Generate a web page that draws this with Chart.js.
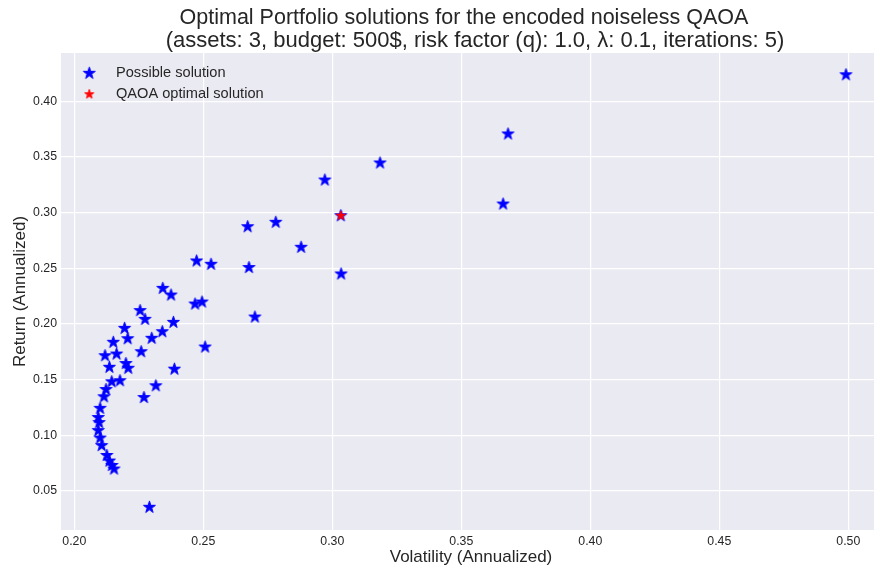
<!DOCTYPE html>
<html>
<head>
<meta charset="utf-8">
<script src="https://cdn.jsdelivr.net/npm/chart.js@4.4.1/dist/chart.umd.min.js"></script>
<style>
  html, body { margin: 0; padding: 0; background: #ffffff; }
  #wrap { width: 874px; height: 572px; }
</style>
</head>
<body>
<div id="wrap"><canvas id="chart" width="874" height="572"></canvas></div>
<script>
// Annualized volatility / return of every feasible portfolio
const volatility = [
  0.4991, 0.3681, 0.3662, 0.3185, 0.2971, 0.3033, 0.3034, 0.2879, 0.2781, 0.2672,
  0.2677, 0.2700, 0.2530, 0.2474, 0.2468, 0.2495, 0.2507, 0.2343, 0.2375, 0.2384,
  0.2341, 0.2300, 0.2388, 0.2316, 0.2270, 0.2259, 0.2255, 0.2274, 0.2291, 0.2195,
  0.2207, 0.2151, 0.2119, 0.2164, 0.2136, 0.2200, 0.2209, 0.2145, 0.2177, 0.2123,
  0.2115, 0.2100, 0.2093, 0.2096, 0.2093, 0.2100, 0.2106, 0.2126, 0.2136, 0.2146,
  0.2154
];
const returns = [
  0.4240, 0.3708, 0.3078, 0.3447, 0.3294, 0.2973, 0.2449, 0.2689, 0.2914, 0.2874,
  0.2507, 0.2062, 0.2536, 0.2566, 0.2179, 0.2197, 0.1792, 0.2320, 0.2260, 0.2014,
  0.1930, 0.1871, 0.1593, 0.1444, 0.1338, 0.1750, 0.2120, 0.2041, 0.0351, 0.1960,
  0.1867, 0.1835, 0.1714, 0.1729, 0.1610, 0.1644, 0.1601, 0.1480, 0.1489, 0.1410,
  0.1345, 0.1241, 0.1158, 0.1113, 0.1041, 0.0974, 0.0906, 0.0817, 0.0767, 0.0727,
  0.0695
];
// Portfolio picked by QAOA
const optimalVolatility = [0.3033];
const optimalReturn = [0.2973];

const xTicks = [0.20, 0.25, 0.30, 0.35, 0.40, 0.45, 0.50];
const yTicks = [0.05, 0.10, 0.15, 0.20, 0.25, 0.30, 0.35, 0.40];

const titleLines = [
  'Optimal Portfolio solutions for the encoded noiseless QAOA',
  '(assets: 3, budget: 500$, risk factor (q): 1.0, \u03BB: 0.1, iterations: 5)'
];
const xLabel = 'Volatility (Annualized)';
const yLabel = 'Return (Annualized)';
const seriesNames = ['Possible solution', 'QAOA optimal solution'];

const FONT = '"Liberation Sans", Arial, "DejaVu Sans", sans-serif';
const TEXT = '#262626';

// Five-pointed star marker rendered once to a small canvas
function makeStar(outer, color) {
  const size = Math.ceil(outer * 2 + 4);
  const c = document.createElement('canvas');
  c.width = size; c.height = size;
  const g = c.getContext('2d');
  const cx = size / 2, cy = size / 2;
  const inner = outer * 0.381966;
  g.beginPath();
  for (let k = 0; k < 10; k++) {
    const r = k % 2 === 0 ? outer : inner;
    const a = -Math.PI / 2 + k * Math.PI / 5;
    const px = cx + r * Math.cos(a), py = cy + r * Math.sin(a);
    if (k === 0) g.moveTo(px, py); else g.lineTo(px, py);
  }
  g.closePath();
  g.fillStyle = color;
  g.fill();
  g.lineWidth = 1;
  g.lineJoin = 'miter';
  g.strokeStyle = color;
  g.stroke();
  return c;
}
const blueStar = makeStar(6.3, '#0000ff');
const redStar = makeStar(4.8, '#ff0000');

const possiblePts = volatility.map((v, i) => ({ x: v, y: returns[i] }));
const optimalPts = optimalVolatility.map((v, i) => ({ x: v, y: optimalReturn[i] }));

const decor = {
  id: 'decor',
  beforeDraw(chart) {
    const { ctx, chartArea: a } = chart;
    ctx.save();
    ctx.fillStyle = '#ffffff';
    ctx.fillRect(0, 0, chart.width, chart.height);
    ctx.fillStyle = '#eaeaf2';
    ctx.fillRect(a.left, a.top, a.right - a.left, a.bottom - a.top);
    ctx.restore();
  },
  afterDraw(chart) {
    const { ctx, chartArea: a } = chart;
    ctx.save();
    ctx.fillStyle = TEXT;
    // two-line title
    ctx.textAlign = 'center';
    ctx.textBaseline = 'alphabetic';
    ctx.font = '21.5px ' + FONT;
    ctx.fillText(titleLines[0], 464, 23.5);
    ctx.font = '22px ' + FONT;
    ctx.fillText(titleLines[1], 475, 46.5);
    // axis titles
    ctx.font = '17px ' + FONT;
    ctx.fillText(xLabel, 471, 562);
    ctx.save();
    ctx.translate(25, (a.top + a.bottom) / 2);
    ctx.rotate(-Math.PI / 2);
    ctx.fillText(yLabel, 0, 0);
    ctx.restore();
    // legend (upper left, no frame)
    ctx.drawImage(blueStar, 89.3 - blueStar.width / 2, 73.3 - blueStar.height / 2);
    ctx.drawImage(redStar, 89.3 - redStar.width / 2, 94.3 - redStar.height / 2);
    ctx.textAlign = 'left';
    ctx.font = '14.6px ' + FONT;
    ctx.fillText(seriesNames[0], 116, 76.8);
    ctx.fillText(seriesNames[1], 116, 97.6);
    ctx.restore();
  }
};

const tickStyle = { color: TEXT, font: { family: FONT, size: 12.3 } };

new Chart(document.getElementById('chart'), {
  type: 'scatter',
  data: {
    datasets: [
      { label: seriesNames[1], data: optimalPts, pointStyle: redStar, pointRadius: 5, order: 0 },
      { label: seriesNames[0], data: possiblePts, pointStyle: blueStar, pointRadius: 6, order: 1 }
    ]
  },
  options: {
    responsive: false,
    animation: false,
    events: [],
    layout: { autoPadding: false, padding: { top: 53, left: 0, right: 0, bottom: 0 } },
    plugins: { legend: { display: false }, tooltip: { enabled: false }, title: { display: false } },
    scales: {
      x: {
        type: 'linear',
        min: 0.19484,
        max: 0.50996,
        afterBuildTicks: s => { s.ticks = xTicks.map(v => ({ value: v })); },
        afterFit: s => { s.height = 42; s.paddingLeft = 0; s.paddingRight = 0; },
        grid: { color: '#ffffff', lineWidth: 1.2, drawTicks: false },
        border: { display: false },
        ticks: Object.assign({ padding: 4, maxRotation: 0, callback: v => v.toFixed(2) }, tickStyle)
      },
      y: {
        type: 'linear',
        min: 0.0147,
        max: 0.4436,
        afterBuildTicks: s => { s.ticks = yTicks.map(v => ({ value: v })); },
        afterFit: s => { s.width = 61; s.paddingTop = 0; s.paddingBottom = 0; },
        grid: { color: '#ffffff', lineWidth: 1.2, drawTicks: false },
        border: { display: false },
        ticks: Object.assign({ padding: 4, callback: v => v.toFixed(2) }, tickStyle)
      }
    }
  },
  plugins: [decor]
});
</script>
</body>
</html>
